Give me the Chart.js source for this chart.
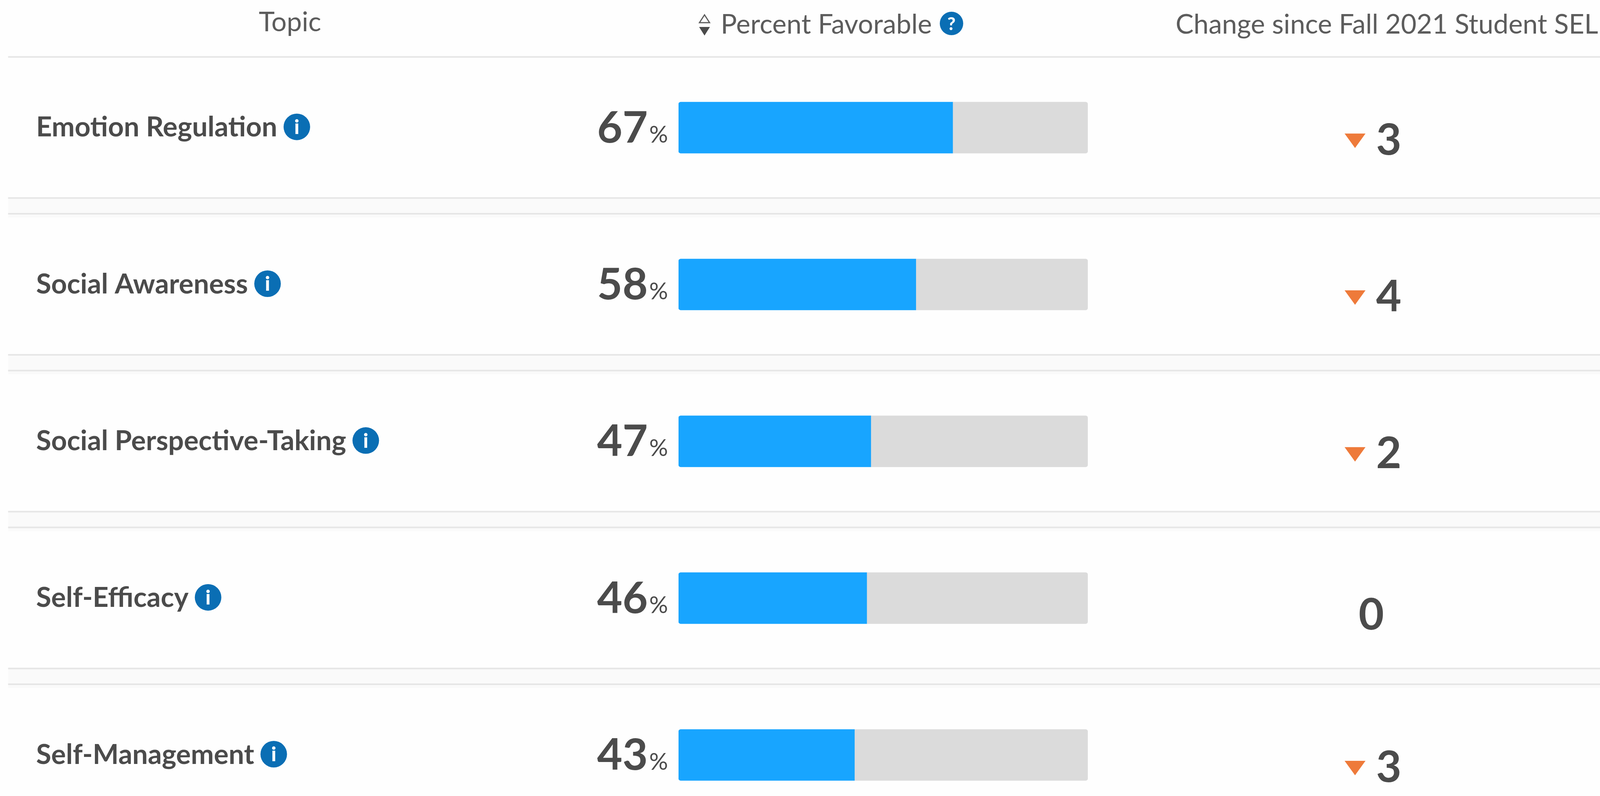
<!DOCTYPE html>
<html>
<head>
<meta charset="utf-8">
<title>Percent Favorable</title>
<script src="https://cdn.jsdelivr.net/npm/chart.js@4"></script>
<style>
  html, body { margin: 0; padding: 0; background: #fefefe; overflow: hidden; }
  #wrap { width: 100vw; height: 100vh; overflow: hidden; }
  canvas { display: block; }
</style>
</head>
<body>
<div id="wrap"><canvas id="chart"></canvas></div>
<script>
const topics = ['Emotion Regulation', 'Social Awareness', 'Social Perspective-Taking', 'Self-Efficacy', 'Self-Management']
const favorable = [67, 58, 47, 46, 43]
const remainder = [33, 42, 53, 54, 57]
const changes = [-3, -4, -2, 0, -3]
const headers = ['Topic', 'Percent Favorable', 'Change since Fall 2021 Student SEL']

const textColor = '#4b4b4b'
const headColor = '#5c5c5c'
const iconColor = '#0a6eb4'
const font = 'Lato, sans-serif'

// the browser may hand us a narrower window than the reference, so x positions
// are read in reference pixels and scaled to what we really got
const canvas = document.getElementById('chart')
canvas.width = Math.min(window.innerWidth, 4742)
canvas.height = 2178
const sx = canvas.width / 4742
const px = v => v * sx

function badge(ctx, x, y, r, glyph) {
    ctx.fillStyle = iconColor
    ctx.beginPath()
    ctx.arc(x, y, r, 0, Math.PI * 2)
    ctx.fill()
    ctx.fillStyle = '#fff'
    ctx.font = `900 ${r * 1.5}px ${font}`
    ctx.textAlign = 'center'
    ctx.textBaseline = 'middle'
    ctx.fillText(glyph, x, y + 2)
}

function triangle(ctx, cx, top, w, h, color) {
    ctx.beginPath()
    ctx.moveTo(cx - w / 2, top)
    ctx.lineTo(cx + w / 2, top)
    ctx.lineTo(cx, top + h)
    ctx.closePath()
    ctx.fillStyle = color
    ctx.fill()
}

// row rules and the pale gap between rows go under the bars
const rowRules = {
    id: 'rowRules',
    beforeDatasetsDraw(chart) {
        const { ctx, scales: { y } } = chart
        const left = px(24)
        topics.forEach((t, i) => {
            const c = y.getPixelForValue(i)
            ctx.fillStyle = '#fafafa'
            ctx.fillRect(left, c + 180, chart.width - left, 50)
            ctx.fillStyle = '#e6e6e6'
            ctx.fillRect(left, c - 183, chart.width - left, 4)
            ctx.fillRect(left, c + 178, chart.width - left, 4)
        })
    }
}

// header row, info badges, percent labels and change column
const tableText = {
    id: 'tableText',
    afterDraw(chart) {
        const { ctx, scales: { x, y } } = chart
        const zero = x.getPixelForValue(0)
        ctx.save()

        ctx.fillStyle = headColor
        ctx.textBaseline = 'alphabetic'
        ctx.textAlign = 'left'
        ctx.font = `400 69px ${font}`
        ctx.fillText(headers[0], px(767), 80)
        ctx.fillText(headers[1], px(2136), 86)
        ctx.fillText(headers[2], px(3484), 86)

        // sort arrows
        ctx.beginPath()
        ctx.moveTo(px(2073), 58)
        ctx.lineTo(px(2103), 58)
        ctx.lineTo(px(2088), 38)
        ctx.closePath()
        ctx.strokeStyle = headColor
        ctx.lineWidth = 3
        ctx.stroke()
        triangle(ctx, px(2088), 69, px(32), 22, textColor)

        badge(ctx, px(2820), 60, 30, '?')

        const tickFont = y.options.ticks.font
        ctx.font = `${tickFont.weight} ${tickFont.size}px ${font}`
        const nameWidths = topics.map(t => ctx.measureText(t).width)

        topics.forEach((t, i) => {
            const c = y.getPixelForValue(i)
            badge(ctx, px(107) + nameWidths[i] + px(58), c - 2, 34, 'i')

            ctx.fillStyle = textColor
            ctx.textBaseline = 'alphabetic'
            ctx.textAlign = 'right'
            ctx.font = `700 112px ${font}`
            ctx.fillText(favorable[i], zero - px(91), c + 38)
            ctx.textAlign = 'left'
            ctx.font = `400 60px ${font}`
            ctx.fillText('%', zero - px(87), c + 38)

            const d = changes[i]
            ctx.font = `700 112px ${font}`
            ctx.textAlign = 'center'
            if (d < 0) {
                triangle(ctx, px(4016), c + 15, px(62), 37, '#ee7a3a')
                ctx.fillStyle = textColor
                ctx.fillText(Math.abs(d), px(4116), c + 69)
            } else {
                ctx.fillStyle = textColor
                ctx.fillText(d, px(4064), c + 80)
            }
        })
        ctx.restore()
    }
}

new Chart(canvas, {
    type: 'bar',
    data: {
        labels: topics,
        datasets: [
            {
                label: 'Percent Favorable',
                data: favorable,
                backgroundColor: '#18a5ff',
                borderRadius: { topLeft: 6, bottomLeft: 6 },
                borderSkipped: false,
                barThickness: 131
            },
            {
                label: 'Remainder',
                data: remainder,
                backgroundColor: '#dbdbdb',
                borderRadius: { topRight: 6, bottomRight: 6 },
                borderSkipped: false,
                barThickness: 131
            }
        ]
    },
    options: {
        indexAxis: 'y',
        responsive: false,
        animation: false,
        devicePixelRatio: 1,
        layout: {
            autoPadding: false,
            padding: { left: px(107), right: px(1518), top: 126, bottom: 0 }
        },
        plugins: { legend: { display: false }, tooltip: { enabled: false } },
        scales: {
            x: { stacked: true, min: 0, max: 100, display: false },
            y: {
                stacked: true,
                grid: { display: false },
                border: { display: false },
                afterFit(scale) { scale.width = px(2011 - 107) },
                ticks: {
                    crossAlign: 'far',
                    color: textColor,
                    font: { family: font, size: 70.5, weight: '700' }
                }
            }
        }
    },
    plugins: [rowRules, tableText]
})
</script>
</body>
</html>
